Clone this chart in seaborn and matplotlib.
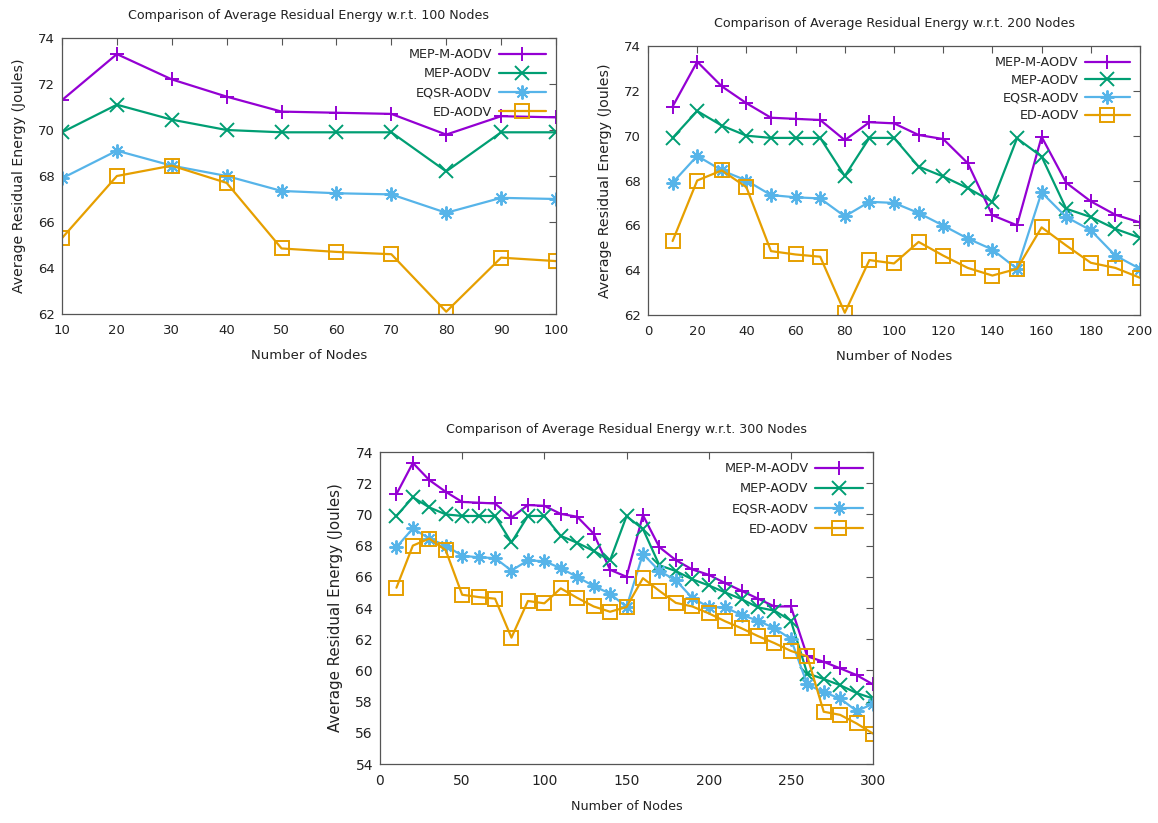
import matplotlib
matplotlib.use("Agg")
import matplotlib.pyplot as plt
import seaborn as sns
import numpy as np

nodes = list(range(10, 310, 10))
mep_m_aodv = [71.3, 73.3, 72.2, 71.45, 70.8, 70.75, 70.7, 69.8, 70.6, 70.55,
              70.03, 69.85, 68.77, 66.45, 66.0, 69.95, 67.9, 67.07, 66.47, 66.13,
              65.6, 65.1, 64.6, 64.1, 64.1, 60.9, 60.55, 60.13, 59.7, 59.1]
mep_aodv = [69.9, 71.1, 70.45, 70.0, 69.9, 69.9, 69.9, 68.2, 69.9, 69.9,
            68.62, 68.18, 67.66, 67.05, 69.88, 69.07, 66.74, 66.37, 65.84, 65.45,
            65.0, 64.57, 64.04, 63.83, 63.19, 59.8, 59.45, 59.05, 58.55, 58.2]
eqsr_aodv = [67.9, 69.1, 68.45, 68.0, 67.35, 67.25, 67.2, 66.4, 67.05, 67.0,
             66.55, 65.99, 65.41, 64.92, 64.06, 67.47, 66.37, 65.78, 64.65, 64.06,
             64.04, 63.55, 63.19, 62.7, 62.02, 59.1, 58.6, 58.2, 57.4, 57.85]
ed_aodv = [65.3, 68.0, 68.45, 67.7, 64.85, 64.7, 64.6, 62.1, 64.45, 64.3,
           65.26, 64.65, 64.1, 63.76, 64.06, 65.91, 65.1, 64.33, 64.1, 63.66,
           63.15, 62.7, 62.2, 61.75, 61.25, 60.9, 57.35, 57.15, 56.6, 55.95]

series_names = ["MEP-M-AODV", "MEP-AODV", "EQSR-AODV", "ED-AODV"]
series_vals = [mep_m_aodv, mep_aodv, eqsr_aodv, ed_aodv]
colors = ["#9400d3", "#009e73", "#56b4e9", "#e69f00"]
markers = ["+", "x", (8, 2, 0), "s"]

sns.set_style("white")
plt.rcParams['font.family'] = ['DejaVu Sans']

W, H = 1158, 823
fig = plt.figure(figsize=(W / 100, H / 100), dpi=100)


def make_axes(left, right, top, bottom):
    return fig.add_axes([left / W, 1 - bottom / H, (right - left) / W, (bottom - top) / H])


def draw(ax, n, xlim, xticks, ylim, yticks, title, fs, titlefs, xlfs, ylfs,
         legfs, labspace, hlen):
    xs = nodes[:n]
    for name, vals, c, m in zip(series_names, series_vals, colors, markers):
        kw = dict(markersize=10, markeredgewidth=1.4)
        if m == "s":
            kw.update(markerfacecolor="none", markeredgecolor=c, markersize=9.5)
        else:
            kw.update(markeredgecolor=c)
        sns.lineplot(x=xs, y=vals[:n], ax=ax, color=c, marker=m, linewidth=1.6,
                     label=name, **kw)
    ax.set_xlim(*xlim)
    ax.set_ylim(*ylim)
    ax.set_xticks(xticks)
    ax.set_yticks(yticks)
    ax.tick_params(direction="in", top=True, right=True, length=5, width=0.8,
                   color="#555555", labelsize=fs, pad=5, labelcolor="#222222")
    ax.tick_params(axis="x", pad=7)
    for s in ax.spines.values():
        s.set_color("#555555")
        s.set_linewidth(0.9)
    ax.set_xlabel("Number of Nodes", fontsize=xlfs, labelpad=9, color="#222222")
    ax.set_ylabel("Average Residual Energy (Joules)", fontsize=ylfs, labelpad=9,
                  color="#222222")
    ax.set_title(title, fontsize=titlefs, pad=14, color="#222222")
    leg = ax.legend(loc="upper right", frameon=False, markerfirst=False,
                    fontsize=legfs, handlelength=hlen, labelspacing=labspace,
                    borderaxespad=0.4, handletextpad=0.5)
    try:
        leg._legend_box._children[-1]._children[0].align = "right"
    except Exception:
        pass


ax1 = make_axes(62, 556, 38, 314)
draw(ax1, 10, (10, 100), list(range(10, 101, 10)), (62, 74), list(range(62, 75, 2)),
     "Comparison of Average Residual Energy w.r.t. 100 Nodes",
     9.5, 9.1, 9.5, 10.2, 9.2, 0.48, 3.7)

ax2 = make_axes(648, 1140, 46, 315)
draw(ax2, 20, (0, 200), list(range(0, 201, 20)), (62, 74), list(range(62, 75, 2)),
     "Comparison of Average Residual Energy w.r.t. 200 Nodes",
     9.5, 9.1, 9.5, 10.2, 9.2, 0.36, 3.5)

ax3 = make_axes(380, 873, 452, 764)
draw(ax3, 30, (0, 300), list(range(0, 301, 50)), (54, 74), list(range(54, 75, 2)),
     "Comparison of Average Residual Energy w.r.t. 300 Nodes",
     10, 9.1, 9.2, 10.8, 9.3, 0.55, 3.7)

fig.savefig("out.png", dpi=100, facecolor="white")
